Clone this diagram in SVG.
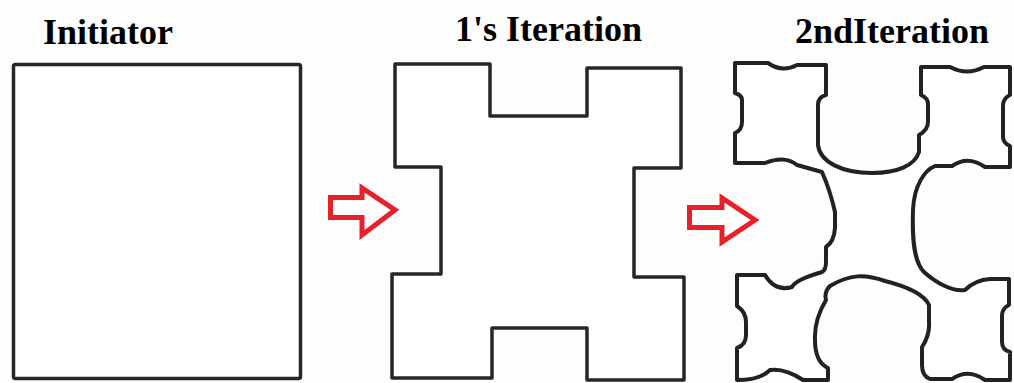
<svg xmlns="http://www.w3.org/2000/svg" width="1014" height="383" viewBox="0 0 1014 383">
<style>
.lbl{font-family:"Liberation Serif","Times New Roman",serif;font-weight:bold;font-size:36px;fill:#000}
.shape{fill:#fff;stroke:#262626;stroke-width:3.5;stroke-linejoin:round}
.blob{fill:#fff;stroke:#222;stroke-width:4;stroke-linejoin:round}
.arrow{fill:#fff;stroke:#e8202a;stroke-width:5;stroke-linejoin:miter}
</style>
<rect width="1014" height="383" fill="#fdfdfd"/>
<g id="initiator">
<text class="lbl" x="43" y="44">Initiator</text>
<rect class="shape" x="13.5" y="64.5" width="287" height="314" rx="2"/>
</g>
<g id="iteration1">
<text class="lbl" x="455" y="41">1's Iteration</text>
<path class="shape" d="M395,64 H490 V116 H587 V68 H681 V168 H634 V277 H684 V380 H587 V328 H492 V378 H392 V274 H441 V167 H395 Z"/>
</g>
<g id="iteration2">
<text class="lbl" x="795" y="43">2ndIteration</text>
<path class="blob" d="M735,63 H768 Q782,73 797,65 H826 V95 Q818,97 818,105 V145 C820,162 842,173 872,173 C898,173 915,165 919,152 V135 Q928,130 928,122 V104 Q928,98 921,95 V67 H950 Q967,76 984,67 H1010 V95 Q1003,98 1003,106 V137 Q1003,143 1010,146 V167 H985 Q968,155 952,166 H935 C925,170 914,185 913,210 C912,240 914,262 924,272 C935,282 952,292 965,290 Q975,280 990,279 H1009 V305 Q1002,308 1002,316 V342 Q1002,350 1010,352 V380 H985 Q968,368 952,379 H930 Q922,376 922,365 V347 Q930,335 929,322 V305 C924,294 905,286 885,281 C865,274 850,274 830,286 Q824,292 826,300 Q814,320 815,340 Q815,362 828,368 V380 H803 Q785,368 770,370 Q760,380 737,380 V348 Q746,345 746,335 V322 Q746,312 737,306 V275 H765 Q775,292 792,287 Q795,280 822,272 Q826,270 826,262 V247 Q834,242 835,228 V212 Q830,190 822,172 L797,165 Q785,155 765,163 H735 V133 Q742,130 742,122 V100 Q742,95 735,93 Z"/>
</g>
<g id="connectors">
<polygon class="arrow" points="330.5,197.5 362,197.5 362,188 395,210 362,235 362,217.5 330.5,217.5"/>
<polygon class="arrow" points="689.5,207.5 722,207.5 722,198 755,220 722,242 722,227.5 689.5,227.5"/>
</g>
</svg>
